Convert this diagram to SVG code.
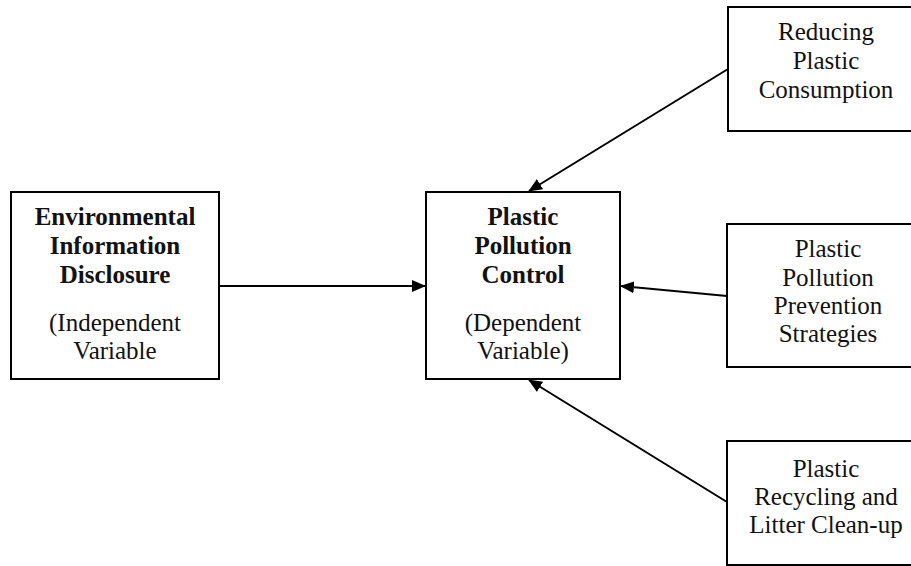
<svg xmlns="http://www.w3.org/2000/svg" width="911" height="566" viewBox="0 0 911 566">
<style>
.box{fill:#fff;stroke:#000;stroke-width:2}
.t{font-family:'Times New Roman','Liberation Serif',Tinos,Times,serif;font-size:25px;fill:#111;text-anchor:middle}
.b{font-weight:bold}
.c{stroke:#000;stroke-width:2;fill:none;marker-end:url(#ah)}
</style>
<defs>
<marker id="ah" markerUnits="userSpaceOnUse" markerWidth="14" markerHeight="12" refX="13" refY="6" orient="auto">
<path d="M0,0 L14,6 L0,12 Z" fill="#000"/>
</marker>
</defs>
<rect width="911" height="566" fill="#fff"/>
<g id="connectors">
<line class="c" x1="219" y1="286" x2="425" y2="286"/>
<line class="c" x1="728" y1="69" x2="529" y2="191"/>
<line class="c" x1="727" y1="296" x2="621" y2="286"/>
<line class="c" x1="727" y1="502" x2="529" y2="380"/>
</g>
<g id="n-eid">
<rect class="box" x="11" y="192" width="208" height="187"/>
<text class="t b" x="115" y="225">Environmental</text>
<text class="t b" x="115" y="254">Information</text>
<text class="t b" x="115" y="283">Disclosure</text>
<text class="t" x="115" y="331">(Independent</text>
<text class="t" x="115" y="359">Variable</text>
</g>
<g id="n-ppc">
<rect class="box" x="426" y="192" width="194" height="187"/>
<text class="t b" x="523" y="225">Plastic</text>
<text class="t b" x="523" y="254">Pollution</text>
<text class="t b" x="523" y="283">Control</text>
<text class="t" x="523" y="331">(Dependent</text>
<text class="t" x="523" y="359">Variable)</text>
</g>
<g id="n-rpc">
<rect class="box" x="728" y="7" width="200" height="124"/>
<text class="t" x="826" y="40">Reducing</text>
<text class="t" x="826" y="69">Plastic</text>
<text class="t" x="826" y="98">Consumption</text>
</g>
<g id="n-pps">
<rect class="box" x="727" y="224" width="200" height="143"/>
<text class="t" x="828" y="257">Plastic</text>
<text class="t" x="828" y="286">Pollution</text>
<text class="t" x="828" y="314">Prevention</text>
<text class="t" x="828" y="342">Strategies</text>
</g>
<g id="n-prl">
<rect class="box" x="727" y="441" width="200" height="124"/>
<text class="t" x="826" y="477">Plastic</text>
<text class="t" x="826" y="505">Recycling and</text>
<text class="t" x="826" y="533">Litter Clean-up</text>
</g>
</svg>
